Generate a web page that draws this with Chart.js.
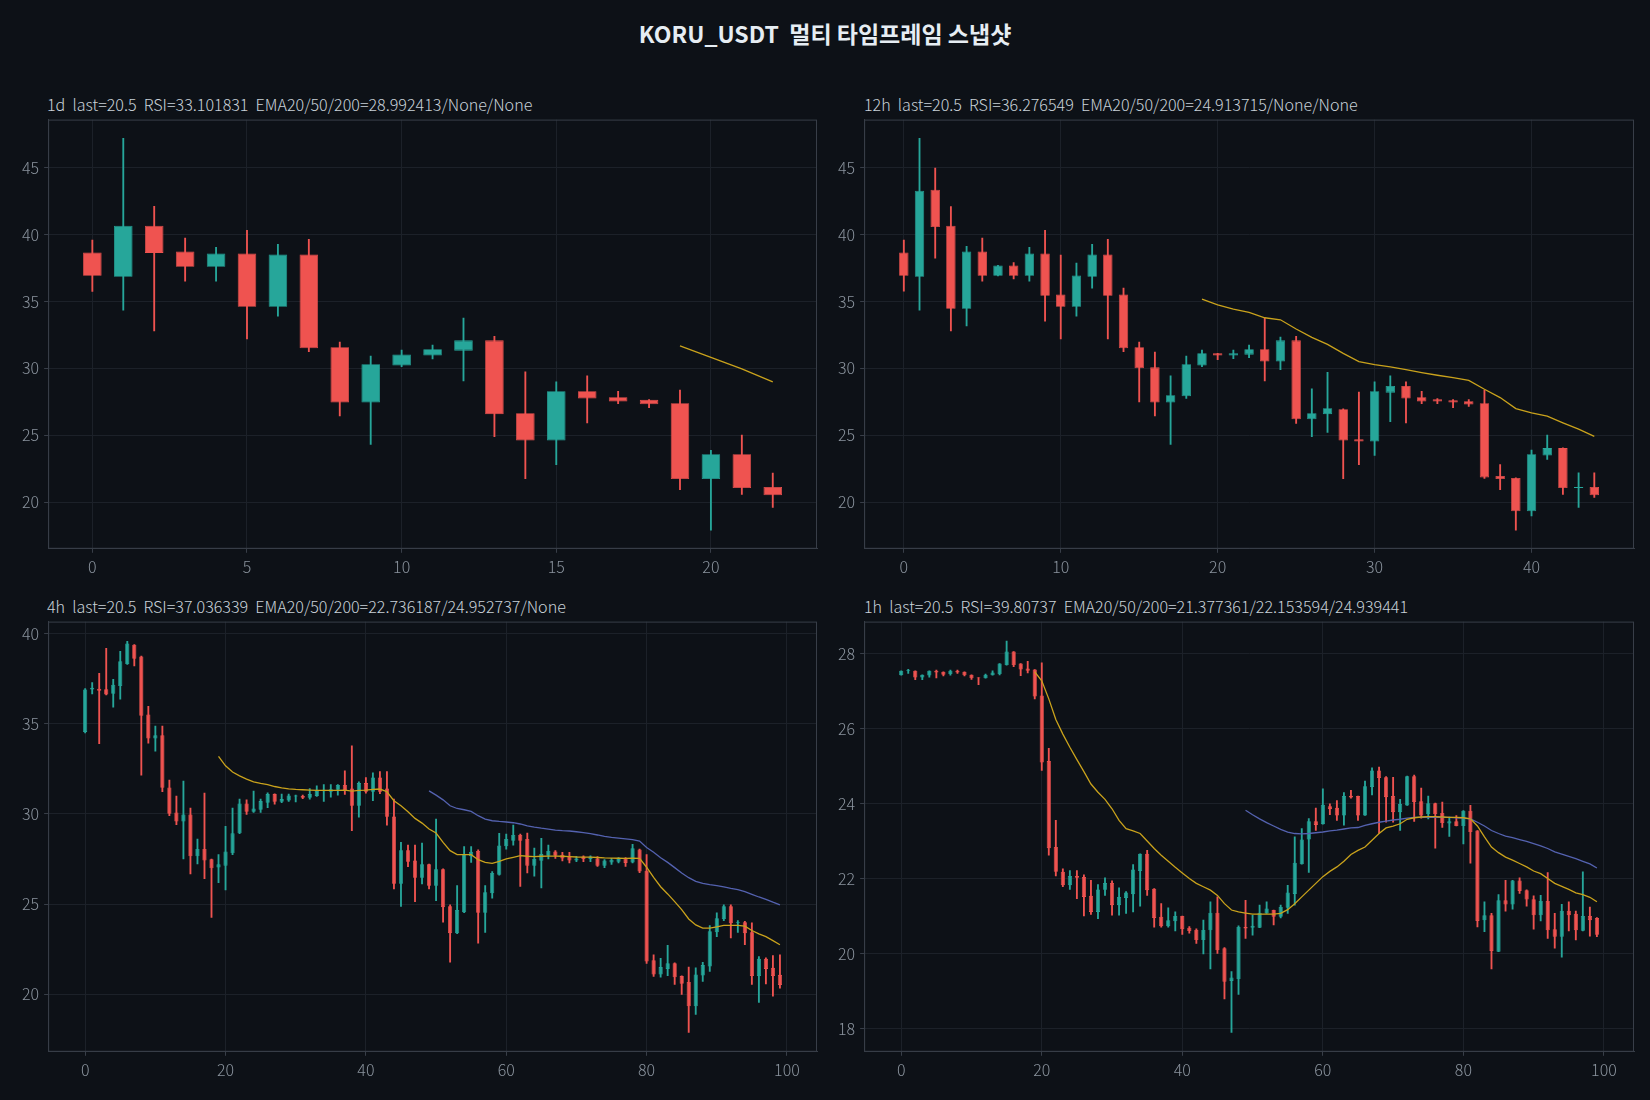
<!DOCTYPE html>
<html>
<head>
<meta charset="utf-8">
<script src="https://cdn.jsdelivr.net/npm/chart.js@4.4.1/dist/chart.umd.min.js"></script>
<style>
  body { margin: 0; background: #0d1117; width: 1650px; height: 1100px; overflow: hidden; position: relative;
         font-family: "Noto Sans CJK KR", "Noto Sans", sans-serif; }
  #title { position: absolute; left: 0; width: 1650px; top: 18px; text-align: center; font-weight: bold;
           font-size: 23px; line-height: 30px; color: #e6edf3; white-space: pre; }
  .sub { position: absolute; font-size: 16.1px; line-height: 20px; color: #c9d1d9; white-space: pre; font-weight: 300; }
  canvas { position: absolute; }
</style>
</head>
<body>
<div id="title">KORU_USDT  멀티 타임프레임 스냅샷</div>
<div class="sub" style="left:47px; top:94px">1d  last=20.5  RSI=33.101831  EMA20/50/200=28.992413/None/None</div>
<div class="sub" style="left:864px; top:94px">12h  last=20.5  RSI=36.276549  EMA20/50/200=24.913715/None/None</div>
<div class="sub" style="left:47px; top:596px">4h  last=20.5  RSI=37.036339  EMA20/50/200=22.736187/24.952737/None</div>
<div class="sub" style="left:864px; top:596px">1h  last=20.5  RSI=39.80737  EMA20/50/200=21.377361/22.153594/24.939441</div>
<canvas id="c1d"></canvas>
<canvas id="c12h"></canvas>
<canvas id="c4h"></canvas>
<canvas id="c1h"></canvas>
<script>
// ---- 1d ----
const D1_OPEN  = [38.66, 36.84, 40.67, 38.73, 37.59, 38.58, 34.6, 38.51, 31.57, 27.44, 30.2, 30.95, 31.32, 32.09, 26.64, 24.6, 28.28, 27.84, 27.64, 27.39, 21.72, 23.58, 21.12];
const D1_HIGH  = [39.58, 47.19, 42.11, 39.73, 39.05, 40.32, 39.28, 39.65, 31.97, 30.92, 31.37, 31.74, 33.76, 32.39, 29.73, 28.98, 29.43, 28.28, 27.66, 28.38, 23.86, 25.0, 22.16];
const D1_LOW   = [35.75, 34.35, 32.79, 36.52, 36.52, 32.19, 33.9, 31.24, 26.44, 24.3, 30.12, 30.7, 29.05, 24.88, 21.74, 22.79, 25.92, 27.36, 27.06, 20.92, 17.89, 20.57, 19.6];
const D1_CLOSE = [36.92, 40.67, 38.63, 37.59, 38.58, 34.6, 38.51, 31.49, 27.44, 30.3, 31.04, 31.42, 32.09, 26.57, 24.6, 28.28, 27.74, 27.51, 27.31, 21.72, 23.58, 21.04, 20.5];
const D1_EMA20_START = 19;
const D1_EMA20 = [31.67, 30.82, 29.95, 28.99];

// ---- 12h ----
const H12_OPEN  = [38.66, 36.84, 43.36, 40.67, 34.45, 38.73, 36.92, 37.69, 36.92, 38.58, 35.52, 34.6, 36.84, 38.51, 35.52, 31.57, 30.07, 27.44, 27.91, 30.2, 31.12, 30.95, 31.02, 31.42, 30.5, 32.09, 26.19, 26.57, 26.94, 24.7, 24.53, 28.18, 28.68, 27.84, 27.69, 27.61, 27.54, 27.39, 21.94, 21.79, 19.3, 23.48, 24.03, 21.05, 21.12];
const H12_HIGH  = [39.58, 47.19, 44.98, 42.09, 39.13, 39.73, 37.7, 37.91, 39.05, 40.32, 38.46, 37.86, 39.28, 39.65, 36.0, 31.97, 31.22, 29.43, 30.92, 31.37, 31.12, 31.37, 31.74, 33.76, 32.34, 32.39, 28.46, 29.7, 26.96, 28.23, 28.98, 29.43, 28.98, 28.28, 27.74, 27.66, 27.66, 28.38, 22.79, 21.8, 23.88, 25.0, 24.05, 22.19, 22.19];
const H12_LOW   = [35.77, 34.35, 38.23, 32.79, 33.16, 36.52, 36.9, 36.69, 36.52, 33.53, 32.19, 33.9, 36.0, 32.19, 31.24, 27.49, 26.44, 24.3, 27.74, 30.12, 30.65, 30.72, 30.8, 29.05, 29.9, 25.87, 24.88, 25.2, 21.74, 22.79, 23.48, 26.0, 25.92, 27.36, 27.36, 27.06, 27.14, 21.77, 20.92, 17.89, 18.96, 23.18, 20.57, 19.6, 20.35];
const H12_CLOSE = [36.92, 43.28, 40.57, 34.45, 38.73, 36.92, 37.69, 36.92, 38.58, 35.42, 34.6, 36.94, 38.51, 35.42, 31.49, 30.0, 27.44, 27.99, 30.3, 31.12, 30.95, 31.12, 31.42, 30.5, 32.09, 26.19, 26.64, 27.01, 24.6, 24.53, 28.28, 28.68, 27.74, 27.51, 27.51, 27.44, 27.29, 21.84, 21.72, 19.3, 23.58, 24.03, 21.04, 21.12, 20.5];
const H12_EMA20_START = 19;
const H12_EMA20 = [35.17, 34.75, 34.43, 34.18, 33.78, 33.63, 32.94, 32.31, 31.79, 31.12, 30.5, 30.27, 30.1, 29.9, 29.68, 29.48, 29.3, 29.1, 28.43, 27.81, 26.99, 26.67, 26.42, 25.92, 25.45, 24.91];

// ---- 4h ----
const H4_OPEN  = [34.55, 36.9, 36.95, 36.92, 36.66, 37.1, 38.32, 39.39, 38.73, 35.51, 34.18, 34.37, 31.47, 30.08, 29.58, 29.97, 27.65, 28.05, 27.48, 27.02,
                  27.13, 27.81, 28.92, 30.58, 30.12, 30.23, 30.62, 31.1, 30.67, 30.75, 30.97, 31.0, 30.9, 31.0, 31.26, 31.23, 31.34, 31.6, 31.41, 30.45,
                  31.71, 31.23, 32.02, 31.41, 29.86, 26.13, 27.98, 27.42, 26.46, 27.2, 26.02, 26.93, 24.88, 23.38, 24.54, 27.65, 27.94, 24.51, 25.6, 26.63,
                  28.2, 28.51, 28.83, 28.61, 27.13, 27.4, 27.68, 27.92, 27.74, 27.68, 27.41, 27.64, 27.5, 27.53, 27.13, 27.31, 27.35, 27.53, 27.31, 28.03,
                  26.85, 21.88, 21.09, 21.4, 21.72, 21.0, 20.67, 19.33, 21.03, 21.53, 23.43, 24.17, 24.88, 23.96, 23.99, 23.43, 21.0, 21.96, 21.46, 21.07];
const H4_HIGH  = [36.95, 37.29, 37.8, 39.19, 37.47, 39.02, 39.58, 39.4, 38.75, 35.97, 34.87, 34.87, 31.87, 30.99, 31.82, 30.32, 28.6, 31.15, 27.5, 27.74,
                  29.31, 30.32, 30.82, 30.78, 31.26, 30.82, 31.17, 31.12, 31.1, 31.1, 31.04, 31.05, 31.41, 31.56, 31.63, 31.63, 31.62, 32.39, 33.78, 31.78,
                  32.02, 32.28, 32.35, 32.35, 30.82, 28.42, 28.27, 28.27, 28.38, 27.22, 29.71, 26.95, 24.95, 26.02, 28.18, 28.18, 28.01, 26.02, 26.8, 28.92,
                  28.88, 29.38, 28.88, 28.94, 28.11, 28.64, 28.27, 27.96, 27.87, 27.87, 27.64, 27.68, 27.68, 27.63, 27.46, 27.53, 27.57, 27.57, 28.31, 28.05,
                  27.74, 22.18, 21.99, 22.71, 21.74, 21.02, 21.5, 21.46, 21.77, 23.8, 24.51, 24.95, 24.95, 24.08, 24.04, 23.95, 22.09, 22.01, 22.14, 22.18];
const H4_LOW   = [34.5, 36.66, 33.89, 36.6, 35.92, 36.36, 38.3, 38.21, 32.15, 33.92, 33.48, 31.23, 29.9, 29.4, 27.5, 26.67, 27.22, 26.41, 24.25, 26.19,
                  25.78, 27.74, 28.9, 29.97, 30.08, 30.08, 30.34, 30.54, 30.62, 30.69, 30.67, 30.85, 30.82, 30.97, 30.69, 30.93, 31.04, 31.08, 29.07, 29.82,
                  31.15, 30.73, 31.12, 29.38, 25.84, 24.86, 27.07, 25.13, 26.11, 25.84, 25.19, 23.99, 21.77, 23.36, 24.52, 27.31, 22.83, 23.43, 25.32, 26.6,
                  28.05, 28.27, 25.97, 26.72, 26.54, 25.89, 27.5, 27.53, 27.39, 27.28, 27.35, 27.35, 27.35, 27.09, 27.02, 27.2, 27.28, 27.09, 27.28, 26.74,
                  21.7, 20.98, 20.94, 21.03, 20.54, 19.98, 17.88, 18.87, 20.7, 21.26, 23.19, 24.08, 23.12, 23.43, 22.75, 20.54, 19.54, 20.57, 19.89, 20.33];
const H4_CLOSE = [36.9, 37.0, 36.84, 36.62, 37.17, 38.47, 39.45, 38.61, 35.44, 34.18, 34.37, 31.45, 30.01, 29.58, 29.97, 27.65, 28.05, 27.41, 26.98, 27.2,
                  27.92, 28.92, 30.58, 30.12, 30.3, 30.71, 31.1, 30.67, 30.82, 31.02, 31.02, 30.9, 31.1, 31.28, 31.34, 31.37, 31.6, 31.3, 30.45, 31.71,
                  31.23, 32.02, 31.23, 29.84, 26.13, 27.98, 27.35, 26.46, 27.2, 26.02, 26.93, 24.82, 23.38, 24.67, 27.77, 27.9, 24.51, 25.65, 26.72, 28.24,
                  28.61, 28.83, 28.51, 27.13, 27.5, 27.77, 27.94, 27.68, 27.53, 27.41, 27.53, 27.5, 27.63, 27.13, 27.42, 27.46, 27.5, 27.28, 28.09, 26.8,
                  21.81, 21.09, 21.5, 21.72, 20.94, 20.57, 19.33, 21.09, 21.61, 23.49, 24.21, 24.88, 23.93, 24.0, 23.38, 21.0, 21.96, 21.4, 21.0, 20.5];
const H4_EMA20_START = 19;
const H4_EMA20 = [33.19, 32.67, 32.32, 32.11, 31.93, 31.78, 31.69, 31.62, 31.52, 31.45, 31.39, 31.36, 31.34, 31.32, 31.3, 31.3, 31.3, 31.31, 31.32, 31.26,
                  31.3, 31.32, 31.36, 31.38, 31.23, 30.73, 30.45, 30.12, 29.75, 29.49, 29.16, 28.94, 28.42, 27.96, 27.74, 27.74, 27.74, 27.46, 27.31, 27.26,
                  27.37, 27.5, 27.59, 27.68, 27.65, 27.63, 27.65, 27.66, 27.66, 27.65, 27.63, 27.61, 27.6, 27.6, 27.58, 27.56, 27.55, 27.54, 27.53, 27.55,
                  27.53, 27.04, 26.48, 25.96, 25.56, 25.13, 24.69, 24.17, 23.84, 23.66, 23.66, 23.73, 23.82, 23.82, 23.82, 23.77, 23.53, 23.34, 23.19, 22.97, 22.74];
const H4_EMA50_START = 49;
const H4_EMA50 = [31.28, 31.04, 30.78, 30.45, 30.3, 30.23, 30.14, 29.9, 29.71, 29.62, 29.58, 29.55, 29.51, 29.44, 29.34, 29.27, 29.21, 29.16, 29.1, 29.07,
                  29.05, 29.01, 28.96, 28.9, 28.83, 28.75, 28.7, 28.66, 28.62, 28.57, 28.49, 28.14, 27.87, 27.57, 27.31, 27.02, 26.72, 26.46, 26.26, 26.15,
                  26.08, 26.02, 25.95, 25.87, 25.8, 25.69, 25.54, 25.39, 25.26, 25.1, 24.95];

// ---- 1h ----
const H1_OPEN  = [27.42, 27.54, 27.54, 27.36, 27.41, 27.54, 27.51, 27.45, 27.54, 27.51, 27.43, 27.36, 27.34, 27.42, 27.45, 27.69, 28.05, 27.73, 27.6, 27.57,
                  26.88, 25.13, 22.84, 22.18, 21.82, 22.07, 22.04, 21.54, 21.11, 21.7, 21.88, 21.29, 21.48, 21.58, 22.2, 22.66, 21.73, 20.98, 20.73, 20.86,
                  21.0, 20.69, 20.63, 20.36, 20.62, 21.09, 20.14, 19.27, 19.32, 20.71, 20.69, 20.69, 21.07, 21.16, 20.98, 21.22, 21.59, 22.38, 23.04, 23.53,
                  23.45, 23.93, 23.89, 23.68, 24.21, 24.2, 23.68, 24.44, 24.88, 24.7, 24.2, 23.77, 23.95, 24.73, 24.06, 23.72, 24.01, 23.75, 23.47, 23.53,
                  23.4, 23.81, 23.28, 20.89, 21.02, 20.05, 21.42, 21.31, 21.95, 21.69, 21.45, 21.02, 21.4, 20.65, 20.45, 21.14, 21.06, 20.61, 21.0, 20.95];
const H1_HIGH  = [27.54, 27.58, 27.54, 27.43, 27.54, 27.56, 27.51, 27.56, 27.56, 27.51, 27.43, 27.36, 27.45, 27.54, 27.73, 28.33, 28.05, 27.73, 27.79, 27.57,
                  27.75, 25.47, 23.55, 22.26, 22.21, 22.21, 22.1, 21.95, 21.84, 22.02, 21.94, 21.75, 21.65, 22.37, 22.66, 22.75, 21.73, 21.33, 21.22, 21.11,
                  21.0, 20.72, 20.66, 20.89, 21.38, 21.51, 20.16, 19.52, 20.74, 21.42, 21.02, 21.29, 21.38, 21.16, 21.29, 21.82, 23.11, 23.33, 23.6, 23.88,
                  24.39, 23.99, 24.08, 24.29, 24.35, 24.2, 24.6, 24.95, 24.97, 24.72, 24.7, 24.11, 24.73, 24.76, 24.41, 24.2, 24.01, 24.04, 23.64, 23.68,
                  23.81, 23.95, 23.28, 21.38, 21.07, 21.57, 21.95, 21.95, 22.02, 21.7, 21.54, 21.55, 22.16, 21.07, 21.31, 21.38, 21.13, 22.18, 21.24, 20.96];
const H1_LOW   = [27.42, 27.47, 27.3, 27.3, 27.37, 27.35, 27.4, 27.42, 27.47, 27.4, 27.31, 27.17, 27.34, 27.42, 27.43, 27.69, 27.65, 27.41, 27.48, 26.79,
                  24.88, 22.62, 22.07, 21.78, 21.71, 21.46, 21.0, 21.04, 20.93, 21.55, 21.02, 21.02, 21.07, 21.11, 21.26, 21.55, 20.7, 20.7, 20.7, 20.6,
                  20.51, 20.54, 20.27, 19.99, 19.59, 20.0, 18.79, 17.9, 18.91, 20.4, 20.49, 20.69, 21.07, 20.76, 20.95, 21.07, 21.29, 22.38, 22.16, 23.28,
                  23.45, 23.7, 23.55, 23.42, 24.14, 23.55, 23.68, 24.23, 23.2, 23.5, 23.5, 23.28, 23.95, 23.52, 23.61, 23.59, 22.81, 23.36, 23.12, 23.4,
                  22.92, 22.41, 20.71, 20.58, 19.59, 20.05, 21.13, 21.18, 21.6, 21.26, 20.65, 20.87, 20.4, 20.14, 19.9, 20.6, 20.36, 20.6, 20.46, 20.45];
const H1_CLOSE = [27.54, 27.56, 27.36, 27.43, 27.54, 27.49, 27.43, 27.54, 27.49, 27.42, 27.34, 27.34, 27.43, 27.49, 27.73, 28.05, 27.69, 27.57, 27.54, 26.85,
                  25.09, 22.81, 22.18, 21.82, 22.07, 22.02, 21.51, 21.11, 21.71, 21.88, 21.29, 21.51, 21.63, 22.24, 22.66, 21.69, 20.95, 20.73, 20.89, 21.0,
                  20.65, 20.6, 20.36, 20.63, 21.09, 20.09, 19.25, 19.36, 20.71, 20.67, 20.74, 21.09, 21.2, 20.98, 21.24, 21.63, 22.42, 23.04, 23.53, 23.43,
                  23.97, 23.85, 23.68, 24.2, 24.16, 23.68, 24.46, 24.88, 24.68, 24.17, 23.77, 23.99, 24.73, 24.04, 23.68, 24.01, 23.72, 23.48, 23.53, 23.4,
                  23.81, 23.24, 20.87, 21.02, 20.07, 21.42, 21.31, 21.95, 21.67, 21.44, 21.02, 21.4, 20.62, 20.45, 21.14, 21.02, 20.62, 21.0, 20.89, 20.5];
const H1_EMA20_START = 19;
const H1_EMA20 = [27.51, 27.27, 26.79, 26.24, 25.85, 25.5, 25.17, 24.85, 24.52, 24.3, 24.11, 23.86, 23.55, 23.33, 23.27, 23.2, 23.0, 22.8, 22.62, 22.46,
                  22.3, 22.15, 22.0, 21.87, 21.78, 21.69, 21.55, 21.33, 21.16, 21.11, 21.08, 21.05, 21.05, 21.05, 21.05, 21.07, 21.17, 21.33, 21.51, 21.69,
                  21.87, 22.05, 22.19, 22.31, 22.46, 22.64, 22.75, 22.84, 23.02, 23.2, 23.35, 23.4, 23.46, 23.58, 23.62, 23.64, 23.65, 23.65, 23.64, 23.63,
                  23.63, 23.62, 23.59, 23.4, 23.11, 22.84, 22.69, 22.57, 22.49, 22.4, 22.31, 22.2, 22.13, 22.0, 21.87, 21.79, 21.71, 21.62, 21.57, 21.5, 21.38];
const H1_EMA50_START = 49;
const H1_EMA50 = [23.82, 23.7, 23.59, 23.49, 23.4, 23.31, 23.24, 23.2, 23.19, 23.2, 23.22, 23.24, 23.27, 23.29, 23.32, 23.35, 23.36, 23.42, 23.46, 23.5,
                  23.53, 23.56, 23.58, 23.61, 23.63, 23.63, 23.63, 23.63, 23.63, 23.63, 23.62, 23.61, 23.59, 23.5, 23.4, 23.28, 23.2, 23.13, 23.09, 23.04,
                  22.99, 22.93, 22.87, 22.8, 22.71, 22.65, 22.59, 22.53, 22.46, 22.39, 22.28];

// axis ticks
const D1_XTICKS = [0, 5, 10, 15, 20];
const H12_XTICKS = [0, 10, 20, 30, 40];
const H_XTICKS = [0, 20, 40, 60, 80, 100];
const TOP_YTICKS = [20, 25, 30, 35, 40, 45];
const H4_YTICKS = [20, 25, 30, 35, 40];
const H1_YTICKS = [18, 20, 22, 24, 26, 28];

const UP = '#26a69a', DOWN = '#ef5350';
const EMA20_COLOR = '#c9a21c', EMA50_COLOR = '#5462b0';
const GRID = '#1c2129', SPINE = '#383e48', TICK_TEXT = '#8b949e';

Chart.defaults.font.family = '"Noto Sans CJK KR", "Noto Sans", sans-serif';

function emaPoints(start, vals) {
  return vals.map((v, k) => ({ x: start + k, y: v }));
}

const frame = {
  id: 'frame',
  afterDatasetsDraw(chart) {
    const a = chart.chartArea, ctx = chart.ctx;
    ctx.save();
    ctx.strokeStyle = SPINE;
    ctx.lineWidth = 1;
    ctx.strokeRect(a.left + 0.5, a.top + 0.5, a.right - a.left - 1, a.bottom - a.top - 1);
    ctx.restore();
  }
};

function panel(id, box, O, H, L, C, emas, xr, yr, xt, yt) {
  const cv = document.getElementById(id);
  const cols = O.map((o, i) => C[i] >= o ? UP : DOWN);
  const tickStyle = { color: TICK_TEXT, font: { size: 16, weight: 300 }, padding: 5 };
  const gridStyle = { color: GRID, tickColor: SPINE, tickLength: 4, lineWidth: 1, offset: false };

  function config() {
    const datasets = [
      {
        type: 'bar', order: 3, grouped: false,
        data: O.map((o, i) => ({ x: i, y: [L[i], H[i]] })),
        backgroundColor: cols, barThickness: 1.2
      },
      {
        type: 'bar', order: 2, grouped: false,
        data: O.map((o, i) => ({ x: i, y: [Math.min(o, C[i]), Math.max(o, C[i])] })),
        backgroundColor: cols, borderColor: cols, borderWidth: 0.8, borderSkipped: false,
        barPercentage: 0.6, categoryPercentage: 1
      }
    ];
    emas.forEach(e => datasets.push({
      type: 'line', order: 1, data: e.data, borderColor: e.color, borderWidth: 1.3,
      pointRadius: 0, fill: false, tension: 0
    }));
    return {
      type: 'bar',
      data: { datasets },
      plugins: [frame],
      options: {
        responsive: false, maintainAspectRatio: false, animation: false, devicePixelRatio: 1,
        layout: { padding: { top: 2, right: 6, left: 0, bottom: 0 } },
        plugins: { legend: { display: false }, tooltip: { enabled: false } },
        scales: {
          x: {
            type: 'linear', offset: false, min: xr[0], max: xr[1],
            afterBuildTicks: s => { s.ticks = xt.map(v => ({ value: v })); },
            ticks: { ...tickStyle, maxRotation: 0, autoSkip: false },
            grid: gridStyle, border: { color: SPINE }
          },
          y: {
            type: 'linear', min: yr[0], max: yr[1],
            afterBuildTicks: s => { s.ticks = yt.map(v => ({ value: v })); },
            ticks: { ...tickStyle, autoSkip: false },
            grid: gridStyle, border: { color: SPINE }
          }
        }
      }
    };
  }

  // first pass: measure how much room the axes take, then size the canvas so the plot box lands on `box`
  cv.width = 900; cv.height = 500;
  let ch = new Chart(cv, config());
  const a = ch.chartArea;
  const offL = a.left, offT = a.top, offR = 900 - a.right, offB = 500 - a.bottom;
  ch.destroy();
  cv.width = (box.r - box.l) + offL + offR;
  cv.height = (box.b - box.t) + offT + offB;
  cv.style.width = cv.width + 'px';
  cv.style.height = cv.height + 'px';
  cv.style.left = (box.l - offL) + 'px';
  cv.style.top = (box.t - offT) + 'px';
  new Chart(cv, config());
}

panel('c1d', { l: 48, t: 120, r: 817, b: 550 }, D1_OPEN, D1_HIGH, D1_LOW, D1_CLOSE,
  [{ data: emaPoints(D1_EMA20_START, D1_EMA20), color: EMA20_COLOR }],
  [-1.43, 23.43], [16.5, 48.6], D1_XTICKS, TOP_YTICKS);

panel('c12h', { l: 864, t: 120, r: 1634, b: 550 }, H12_OPEN, H12_HIGH, H12_LOW, H12_CLOSE,
  [{ data: emaPoints(H12_EMA20_START, H12_EMA20), color: EMA20_COLOR }],
  [-2.53, 46.53], [16.5, 48.6], H12_XTICKS, TOP_YTICKS);

panel('c4h', { l: 48, t: 622, r: 817, b: 1053 }, H4_OPEN, H4_HIGH, H4_LOW, H4_CLOSE,
  [{ data: emaPoints(H4_EMA20_START, H4_EMA20), color: EMA20_COLOR },
   { data: emaPoints(H4_EMA50_START, H4_EMA50), color: EMA50_COLOR }],
  [-5.28, 104.28], [16.8, 40.67], H_XTICKS, H4_YTICKS);

panel('c1h', { l: 864, t: 622, r: 1634, b: 1053 }, H1_OPEN, H1_HIGH, H1_LOW, H1_CLOSE,
  [{ data: emaPoints(H1_EMA20_START, H1_EMA20), color: EMA20_COLOR },
   { data: emaPoints(H1_EMA50_START, H1_EMA50), color: EMA50_COLOR }],
  [-5.28, 104.28], [17.38, 28.85], H_XTICKS, H1_YTICKS);
</script>
</body>
</html>
